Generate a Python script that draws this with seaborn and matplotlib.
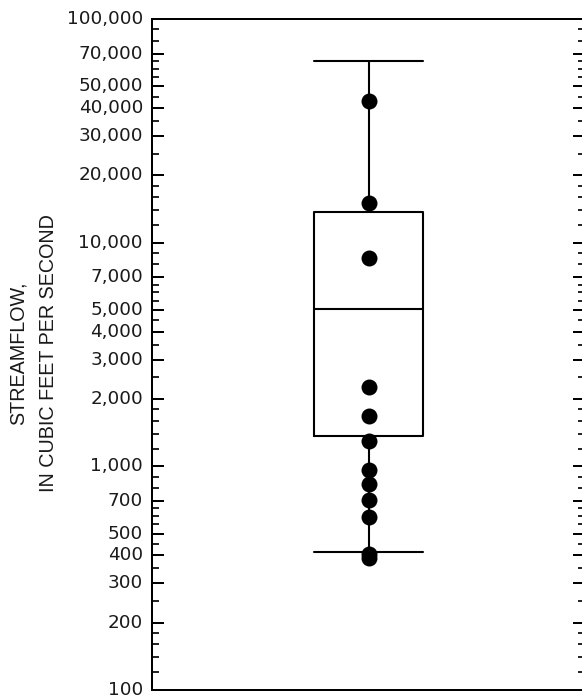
import numpy as np
import pandas as pd
import seaborn as sns
import matplotlib
matplotlib.use("Agg")
import matplotlib.pyplot as plt
import matplotlib.transforms as mtransforms
from matplotlib.ticker import FixedLocator, FuncFormatter, NullFormatter

# Streamflow summary: lower whisker, 25th pct, median, 75th pct, upper whisker
flow_summary = [414, 1362, 5076, 13730, 65090]
# Individual streamflow observations plotted over the box
observed_flows = [43100, 15070, 8500, 2264, 1679, 1297, 966, 830, 710, 593, 405, 390]

# Labelled ticks and unlabelled minor ticks on the log axis
major_ticks = [100, 200, 300, 400, 500, 700,
               1000, 2000, 3000, 4000, 5000, 7000,
               10000, 20000, 30000, 40000, 50000, 70000, 100000]
minor_multipliers = [1.2, 1.4, 1.6, 1.8, 2.5, 3.5, 4.5, 5.5, 6, 6.5, 8, 9]
decades = [100, 1000, 10000]

sns.set_style("white")
plt.rcParams["font.family"] = ["DejaVu Sans"]

W, H = 582, 698
fig = plt.figure(figsize=(W / 100, H / 100), dpi=100)
left, right, top, bottom = 152, 585, 19, 690
ax = fig.add_axes([left / W, (H - bottom) / H, (right - left) / W, (bottom - top) / H])

lw = 1.5
sns.boxplot(y=flow_summary, whis=(0, 100), log_scale=True, width=0.25,
            fill=False, color="black", linecolor="black", linewidth=lw,
            capwidths=0.25, ax=ax)
sns.stripplot(y=observed_flows, jitter=False, color="black", size=11.5,
              linewidth=0, ax=ax, zorder=5)

ax.set_xlim(-0.5, 0.5)
ax.set_ylim(100, 100000)
ax.set_xticks([])
ax.set_xlabel("")
ax.set_ylabel("")

minor_ticks = [d * m for d in decades for m in minor_multipliers]
ax.yaxis.set_major_locator(FixedLocator(major_ticks))
ax.yaxis.set_minor_locator(FixedLocator(minor_ticks))
ax.yaxis.set_major_formatter(FuncFormatter(lambda v, p: f"{int(round(v)):,}"))
ax.yaxis.set_minor_formatter(NullFormatter())
ax.tick_params(axis="y", which="major", direction="in", length=8.6, width=1.44,
               left=True, right=True, labelsize=13.2, pad=6.5, colors="black")
ax.tick_params(axis="y", which="minor", direction="in", length=4.8, width=1.44,
               left=True, right=True)
ax.tick_params(axis="y", labelcolor="#1a1a1a")

# nudge the tick labels up slightly
shift = mtransforms.ScaledTranslation(0, 2.0 / 100, fig.dpi_scale_trans)
for lab in ax.get_yticklabels():
    lab.set_transform(lab.get_transform() + shift)

for side in ["left", "top", "bottom"]:
    ax.spines[side].set_linewidth(1.44)
    ax.spines[side].set_color("black")
    ax.spines[side].set_visible(True)
ax.spines["right"].set_visible(False)

fig.text(33.5 / W, 1 - 353 / H, "STREAMFLOW,\nIN CUBIC FEET PER SECOND",
         rotation=90, ha="center", va="center", fontsize=14.2,
         family=["Liberation Sans", "DejaVu Sans"], linespacing=1.8,
         color="#1a1a1a")

fig.savefig("out.png", dpi=100)
